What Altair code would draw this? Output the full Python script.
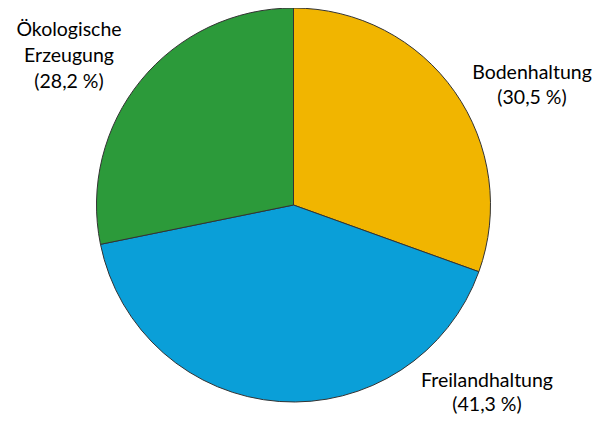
import altair as alt
import pandas as pd

categories = ["Bodenhaltung", "Freilandhaltung", "Ökologische Erzeugung"]
label_lines = [["Bodenhaltung", "(30,5 %)"], ["Freilandhaltung", "(41,3 %)"], ["Ökologische", "Erzeugung", "(28,2 %)"]]
values = [30.5, 41.3, 28.2]
colors = ["#F1B500", "#0A9FD8", "#2C9A3A"]

df = pd.DataFrame({
    "cat": categories,
    "value": values,
    "order": list(range(len(categories))),
    "label": ["\n".join(l) for l in label_lines],
})

base = alt.Chart(df)

pie = base.mark_arc(radius=197, stroke="#333333", strokeWidth=1).encode(
    theta=alt.Theta("value:Q", stack=True),
    order=alt.Order("order:Q"),
    color=alt.Color("cat:N", scale=alt.Scale(domain=categories, range=colors), legend=None),
    x=alt.value(285.5),
    y=alt.value(197),
)

label_pos = {
    "Bodenhaltung": (524, 65, 25),
    "Freilandhaltung": (479, 373, 24),
    "Ökologische Erzeugung": (61, 22, 26),
}

texts = []
for cat, (px, py, lh) in label_pos.items():
    texts.append(
        base.transform_filter(alt.datum.cat == cat)
        .mark_text(font="Lato", fontSize=19.5, color="#000000", align="center",
                   baseline="middle", lineBreak="\n", lineHeight=lh)
        .encode(text="label:N", x=alt.value(px), y=alt.value(py))
    )

chart = alt.layer(pie, *texts).properties(
    width=586, height=407,
    padding=0,
    autosize=alt.AutoSizeParams(type="none"),
).configure_view(stroke=None)

chart.save("out.html", embed_options={"renderer": "svg", "actions": False})
